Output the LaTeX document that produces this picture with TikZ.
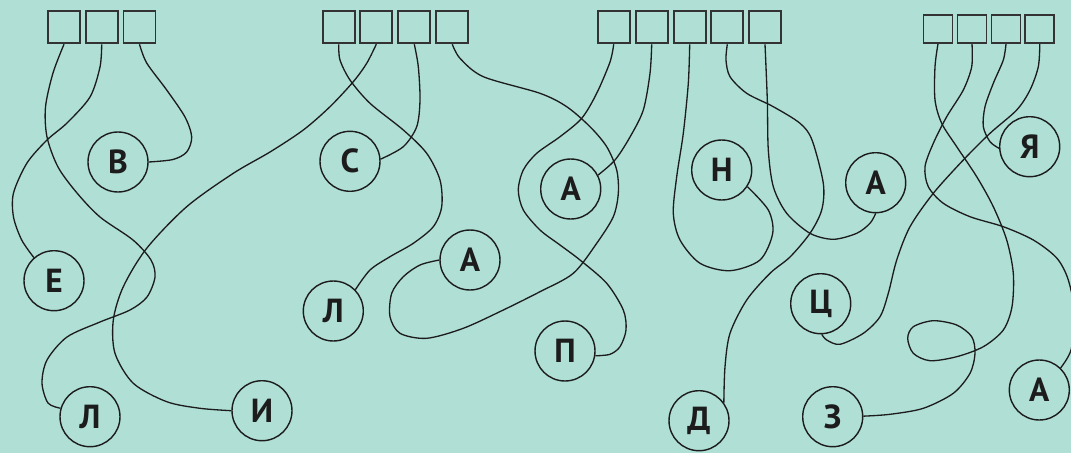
\documentclass[tikz,border=0pt]{standalone}
\usepackage{fontspec}
\setmainfont{PT Sans}
\usetikzlibrary{backgrounds}
\pgfdeclarelayer{bglayer}
\pgfdeclarelayer{edgelayer}
\pgfdeclarelayer{nodelayer}
\pgfsetlayers{bglayer,edgelayer,nodelayer,main}
\definecolor{mint}{RGB}{176,223,213}
\definecolor{ink}{RGB}{28,28,28}
\tikzset{font=\fontsize{19}{20}\selectfont\bfseries}
\tikzstyle{none}=[inner sep=0pt]
\tikzstyle{box}=[rectangle,draw=ink!90,line width=1.1pt,minimum width=0.64cm,minimum height=0.64cm,inner sep=0pt]
\tikzstyle{sbox}=[box,minimum width=0.58cm,minimum height=0.56cm]
\tikzstyle{circ}=[circle,draw=ink,line width=0.8pt,minimum size=1.2cm,inner sep=0pt,text=ink]
\tikzstyle{wire}=[draw=ink,line width=0.75pt]

\begin{document}
\begin{tikzpicture}[x=0.02cm,y=-0.02cm]
	\begin{pgfonlayer}{bglayer}
		\fill[mint] (0,0) rectangle (1071,453);
	\end{pgfonlayer}
	\useasboundingbox (0,0) rectangle (1071,453);
	\begin{pgfonlayer}{nodelayer}
		% top boxes
		\node [style=box] (0) at (64, 27.3) {};
		\node [style=box] (1) at (101.7, 27.3) {};
		\node [style=box] (2) at (139.5, 27.3) {};
		\node [style=box] (3) at (338.7, 27.3) {};
		\node [style=box] (4) at (376.3, 27.3) {};
		\node [style=box] (5) at (414.3, 27.3) {};
		\node [style=box] (6) at (452.3, 27.3) {};
		\node [style=box] (7) at (613.7, 27.3) {};
		\node [style=box] (8) at (651.7, 27.3) {};
		\node [style=box] (9) at (689.7, 27.3) {};
		\node [style=box] (10) at (727.3, 27.3) {};
		\node [style=box] (11) at (765, 27.3) {};
		\node [style=sbox] (12) at (938, 28.8) {};
		\node [style=sbox] (13) at (972, 28.8) {};
		\node [style=sbox] (14) at (1006, 28.8) {};
		\node [style=sbox] (15) at (1039.8, 28.8) {};
		% letters
		\node [style=circ] (16) at (118, 162) {В};
		\node [style=circ] (17) at (54, 280.7) {Е};
		\node [style=circ] (18) at (90, 416.7) {Л};
		\node [style=circ] (19) at (262, 410.7) {И};
		\node [style=circ] (20) at (350, 161.3) {С};
		\node [style=circ] (21) at (333.3, 311) {Л};
		\node [style=circ] (22) at (470, 260) {А};
		\node [style=circ] (23) at (570.7, 189) {А};
		\node [style=circ] (24) at (565, 351) {П};
		\node [style=circ] (25) at (721.7, 170) {Н};
		\node [style=circ] (26) at (699, 420.7) {Д};
		\node [style=circ] (27) at (875.7, 182.7) {А};
		\node [style=circ] (28) at (1029.7, 146.7) {Я};
		\node [style=circ] (29) at (820.7, 303.7) {Ц};
		\node [style=circ] (30) at (832.7, 416.7) {З};
		\node [style=circ] (31) at (1039.3, 390) {А};
	\end{pgfonlayer}
	\begin{pgfonlayer}{edgelayer}
		\draw[style=wire] plot[smooth] coordinates {(0.south) (53,73) (45.5,107) (47,137) (58,167) (77,193) (100,217) (133,240) (151,260) (155,277) (147,297) (130,310) (100,322) (67,337) (47,360) (42,383) (48,403) (18.164)};
		\draw[style=wire] plot[smooth] coordinates {(1.south) (100,67) (90,97) (67,123) (47,140) (27,163) (13.5,193) (13.5,217) (21.7,240) (17.131)};
		\draw[style=wire] plot[smooth] coordinates {(2.south) (146.7,63) (166.7,90) (185,117) (191.7,137) (186.7,152) (173,159.5) (16.0)};
		\draw[style=wire] plot[smooth] coordinates {(3.south) (340,60) (350,80) (370,103.3) (403.3,130) (426.7,153.3) (440,180) (441.7,206.7) (433.3,226.7) (413.3,243.3) (390,256.7) (370,270) (21.44)};
		\draw[style=wire] plot[smooth] coordinates {(4.south) (366.7,63.3) (353.3,81.7) (330,106.7) (303.3,130) (270,152) (233.3,173.3) (186.7,206.7) (146.7,248.3) (123.3,286.7) (113.3,320) (115,353.3) (133.3,383.3) (166.7,401.7) (200,408.3) (19.180)};
		\draw[style=wire] plot[smooth] coordinates {(5.south) (418.3,66.7) (420,100) (416.7,126.7) (403.3,146.7) (20.4)};
		\draw[style=wire] plot[smooth] coordinates {(6.south) (460,58.3) (483.3,76.7) (540,93.3) (566.7,106.7) (590,126.7) (606.7,146.7) (616.7,170) (618.3,193.3) (613.3,216.7) (596.7,243.3) (573.3,273.3) (540,291.7) (503.3,310) (463.3,328.3) (426.7,338.3) (400,333.3) (390,316.7) (391.7,293.3) (403.3,276.7) (420,265) (22.180)};
		\draw[style=wire] plot[smooth] coordinates {(7.south) (610,62) (596.7,93.3) (581.7,118.3) (560,136.7) (536.7,153.3) (523.3,170) (518.3,190) (523.3,210) (540,230) (560,245) (580,260) (606.7,283.3) (623.3,310) (626,330) (620,346.7) (610,354.3) (24.-9)};
		\draw[style=wire] plot[smooth] coordinates {(8.south) (650,73.3) (643.3,110) (630,137) (615,160) (23.27)};
		\draw[style=wire] plot[smooth] coordinates {(9.south) (688.3,83.3) (683.3,133.3) (676.7,176.7) (673.3,213.3) (680,240) (700,263.3) (730,270.7) (760,260) (772.7,233.3) (768.3,210) (25.-33)};
		\draw[style=wire] plot[smooth] coordinates {(10.south) (726,60) (730,76.7) (746.7,93.3) (773.3,106.7) (800,123.3) (812,140) (823.3,183.3) (821.7,210) (810,233.3) (790,257) (770,273.3) (746.7,300) (730,333.3) (725,366.7) (26.36)};
		\draw[style=wire] plot[smooth] coordinates {(11.south) (767.3,100) (768.3,150) (773.3,186.7) (786.7,213.3) (810,233.3) (833.3,239.3) (856.7,233.3) (870,223.3) (27.-90)};
		\draw[style=wire] plot[smooth] coordinates {(12.south) (935,66.7) (935,100) (941.7,123.3) (956.7,146.7) (976.7,176.7) (993.3,206.7) (1006.7,240) (1013.3,273.3) (1012,306.7) (1003.3,330) (983.3,346.7) (956.7,356.7) (930,360.7) (913.3,353.3) (907.7,338.3) (913.3,326.7) (933.3,320.7) (956.7,325) (971.7,336.7) (975,353.3) (970,373.3) (953.3,393.3) (923.3,408.3) (890,414.3) (30.1)};
		\draw[style=wire] plot[smooth] coordinates {(13.south) (971.7,66.7) (963.3,90) (946.7,116.7) (933.3,143.3) (925,166.7) (928.3,186.7) (943.3,203.3) (970,216.7) (1003.3,226.7) (1033.3,240) (1056.7,258) (1068.3,280) (1075,315) (1071,350) (31.46)};
		\draw[style=wire] plot[smooth] coordinates {(14.south) (1003.3,60) (993.3,83.3) (985,106.7) (983.3,126.7) (990,141.7) (28.183)};
		\draw[style=wire] plot[smooth] coordinates {(15.south) (1038.3,66.7) (1030,90) (1016.7,110) (990,133.3) (963.3,160) (933.3,193.3) (910,226.7) (896.7,260) (888.3,293.3) (880,316.7) (863.3,333.3) (840,344.3) (826.7,340) (29.-88)};
	\end{pgfonlayer}
\end{tikzpicture}
\end{document}
